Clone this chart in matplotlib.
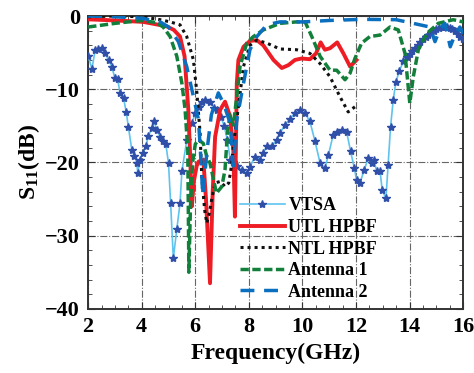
import matplotlib
matplotlib.use('Agg')
import matplotlib.pyplot as plt
from matplotlib.ticker import MultipleLocator

plt.rcParams['font.family'] = ['Liberation Serif', 'DejaVu Serif']
plt.rcParams['font.weight'] = 'bold'
plt.rcParams['mathtext.fontset'] = 'custom'
plt.rcParams['mathtext.rm'] = 'Liberation Serif:bold'
plt.rcParams['mathtext.it'] = 'Liberation Serif:bold'
plt.rcParams['mathtext.bf'] = 'Liberation Serif:bold'

# VTSA
vtsa_f = [2.0, 2.14, 2.26, 2.38, 2.51, 2.63, 2.76, 2.88, 3.0, 3.1, 3.19, 3.32, 3.42, 3.5,
          3.63, 3.73, 3.82, 3.85, 3.94, 4.04, 4.15, 4.25, 4.38, 4.46, 4.56, 4.69, 4.79, 4.9,
          5.0, 5.08, 5.18, 5.31, 5.43, 5.5, 5.68, 5.87, 6.0, 6.12, 6.24, 6.37, 6.55, 6.7,
          6.82, 6.95, 7.08, 7.2, 7.3, 7.42, 7.55, 7.73, 7.92, 8.04, 8.23, 8.42, 8.54, 8.67,
          8.85, 9.04, 9.16, 9.35, 9.54, 9.72, 9.91, 10.1, 10.28, 10.47, 10.66, 10.84, 10.97,
          11.15, 11.28, 11.46, 11.65, 11.8, 11.94, 12.02, 12.15, 12.3, 12.46, 12.58, 12.67,
          12.77, 12.9, 12.98, 13.12, 13.2, 13.29, 13.39, 13.49, 13.62, 13.77, 13.9, 14.0,
          14.1, 14.2, 14.3, 14.4, 14.5, 14.6, 14.7, 14.8, 14.9, 15.0, 15.1, 15.2, 15.3, 15.4,
          15.5, 15.6, 15.7, 15.8, 15.9, 16.0]
vtsa_s = [-5.5, -7.2, -4.7, -4.5, -4.4, -5.0, -6.0, -6.9, -8.5, -8.6, -10.5, -11.2, -13.1, -15.1,
          -18.3, -19.1, -20.1, -21.5, -19.6, -18.7, -17.8, -16.4, -15.3, -14.3, -15.6, -16.5, -17.1, -17.5,
          -20.1, -25.6, -33.1, -29.1, -25.6, -21.2, -17.0, -14.6, -13.3, -12.4, -11.7, -11.5, -11.7, -12.6,
          -12.8, -13.8, -15.0, -17.0, -19.6, -20.0, -20.5, -21.1, -21.5, -20.6, -19.2, -19.6, -18.7, -17.8,
          -17.8, -16.9, -16.0, -14.9, -14.0, -13.3, -12.8, -13.3, -14.4, -17.1, -20.1, -20.8, -19.0,
          -16.2, -15.8, -15.6, -15.8, -18.5, -20.8, -22.4, -22.8, -21.1, -19.4, -20.1, -19.6,
          -21.2, -21.2, -23.8, -24.9, -20.3, -15.2, -11.5, -9.0, -7.5, -6.2, -5.6, -5.2,
          -4.8, -4.4, -4.0, -3.6, -3.2, -2.9, -2.6, -2.3, -2.0, -1.8, -1.6, -1.5, -1.5, -1.5,
          -1.6, -1.8, -2.1, -2.4, -2.8, -3.2]

# UTL HPBF
utl_f = [2.0, 3.0, 4.06, 4.93, 5.2, 5.43, 5.6, 5.74, 5.8, 5.87, 5.95, 6.05, 6.12, 6.3, 6.4,
         6.55, 6.65, 6.74, 6.93, 7.11, 7.3, 7.42, 7.48, 7.55, 7.61, 7.8, 8.04, 8.3, 8.54, 8.92,
         9.23, 9.48, 9.72, 9.97, 10.28, 10.51, 10.68, 10.84, 11.03, 11.3, 11.53, 11.78, 12.02]
utl_s = [-0.45, -0.6, -0.8, -1.4, -1.9, -2.8, -5.5, -12.8, -18.3, -26.0, -22.5, -20.5, -19.9, -19.6, -25.0,
         -36.5, -24.0, -16.5, -12.8, -11.7, -13.7, -18.3, -27.4, -9.2, -6.0, -4.2, -3.4, -3.3, -4.0, -6.0,
         -7.1, -6.7, -6.0, -5.8, -5.9, -5.1, -3.6, -4.6, -4.4, -3.6, -5.1, -6.9, -6.0]

# NTL HPBF
ntl_f = [2.0, 3.0, 4.0, 4.69, 5.06, 5.43, 5.68, 5.93, 6.06, 6.18, 6.24, 6.35, 6.43, 6.52, 6.61,
         6.74, 6.93, 7.11, 7.25, 7.35, 7.42, 7.61, 7.8, 8.04, 8.3, 8.67, 9.16, 9.78, 10.28, 10.66,
         11.03, 11.4, 11.71, 11.96]
ntl_s = [-0.1, 0.0, -0.1, -0.5, -0.8, -1.2, -2.8, -6.0, -10.5, -16.0, -21.9, -26.5, -28.3, -27.0, -25.1,
         -22.8, -22.6, -23.3, -22.8, -20.5, -17.8, -12.4, -6.9, -4.0, -3.3, -3.7, -4.5, -4.6, -5.1, -6.5,
         -8.3, -11.0, -13.1, -12.4]

# Antenna 1
a1_f = [2.0, 3.0, 4.0, 4.56, 4.8, 5.06, 5.31, 5.5, 5.62, 5.72, 5.76, 5.82, 5.9, 6.0, 6.12, 6.3,
        6.43, 6.55, 6.79, 6.99, 7.11, 7.2, 7.3, 7.42, 7.55, 7.67, 7.92, 8.17, 8.54, 9.16, 9.78,
        10.1, 10.35, 10.66, 11.03, 11.28, 11.59, 11.78, 11.96, 12.21, 12.52, 12.9, 13.27, 13.58,
        13.83, 14.01, 14.14, 14.33, 14.64, 15.07, 15.63, 16.0]
a1_s = [-1.5, -1.0, -0.6, -0.9, -1.5, -2.8, -5.5, -9.2, -12.8, -18.3, -35.0, -26.0, -20.0, -17.5, -16.9, -17.4,
        -19.2, -20.1, -24.2, -23.3, -21.0, -16.0, -13.5, -14.9, -11.0, -6.9, -3.7, -2.8, -1.9, -1.0, -0.8,
        -0.8, -2.8, -5.5, -7.4, -7.4, -8.7, -7.8, -5.8, -3.7, -2.8, -2.6, -1.5, -1.9,
        -5.1, -11.9, -8.3, -4.6, -2.4, -1.0, -0.5, -0.8]

# Antenna 2
a2_f = [2.0, 3.0, 4.0, 4.69, 5.0, 5.37, 5.68, 5.93, 6.12, 6.2, 6.28, 6.45, 6.6, 6.86, 7.05, 7.3,
        7.42, 7.55, 7.8, 8.04, 8.3, 8.67, 9.16, 10.03, 11.03, 12.26, 13.5, 14.14, 14.76, 14.95,
        15.13, 15.32, 15.52, 15.7, 15.88, 16.0]
a2_s = [0.0, -0.1, -0.3, -0.8, -1.5, -3.5, -6.9, -11.0, -14.2, -19.0, -24.5, -18.0, -13.5, -10.5, -11.9, -14.6,
        -20.5, -14.2, -9.2, -4.6, -2.8, -1.2, -0.8, -0.8, -0.6, -0.45, -0.5, -1.0, -1.5, -3.5,
        -1.8, -1.0, -4.2, -2.5, -1.5, -2.4]

fig = plt.figure(figsize=(4.74, 3.73), dpi=100)
ax = fig.add_axes([0.186, 0.172, 0.791, 0.785])

ax.plot(vtsa_f, vtsa_s, color='#5ec4ee', lw=1.2, marker='*', ms=6,
        mfc='#2f4fa8', mec='#2f4fa8', label='VTSA', zorder=3)
ax.plot(utl_f, utl_s, color='#ee1c24', lw=2.8, label='UTL HPBF', zorder=4)
ax.plot(ntl_f, ntl_s, color='#111111', lw=2.2, ls=(0, (1, 1.3)), label='NTL HPBF', zorder=4)
ax.plot(a1_f, a1_s, color='#12803a', lw=2.5, ls=(0, (2.4, 1.0)), label='Antenna 1', zorder=4)
ax.plot(a2_f, a2_s, color='#0b6fbf', lw=2.5, ls=(0, (4, 2.8)), label='Antenna 2', zorder=4)

ax.set_xlim(2, 16)
ax.set_ylim(-40, 0)
ax.xaxis.set_major_locator(MultipleLocator(2))
ax.xaxis.set_minor_locator(MultipleLocator(0.5))
ax.yaxis.set_major_locator(MultipleLocator(10))
ax.yaxis.set_minor_locator(MultipleLocator(2))
ax.tick_params(which='both', direction='in', top=True, right=True, labelsize=16, pad=6,
               color='#333333')
ax.tick_params(which='major', length=5)
ax.tick_params(which='minor', length=3)
ax.grid(True, which='major', color='#666666', ls='-.', lw=0.8)
for sp in ax.spines.values():
    sp.set_color('#333333')
    sp.set_linewidth(1.4)

ax.set_xlabel('Frequency(GHz)', fontsize=17, fontweight='bold', labelpad=4)
ax.set_ylabel(r'S$_{\rm 11}$(dB)', fontsize=17, fontweight='bold', labelpad=2)

leg = ax.legend(loc='upper left', bbox_to_anchor=(0.385, 0.405), frameon=False,
                fontsize=13, handlelength=2.5, labelspacing=0.25, handletextpad=0.2,
                borderaxespad=0)

fig.savefig('out.png', dpi=100)
